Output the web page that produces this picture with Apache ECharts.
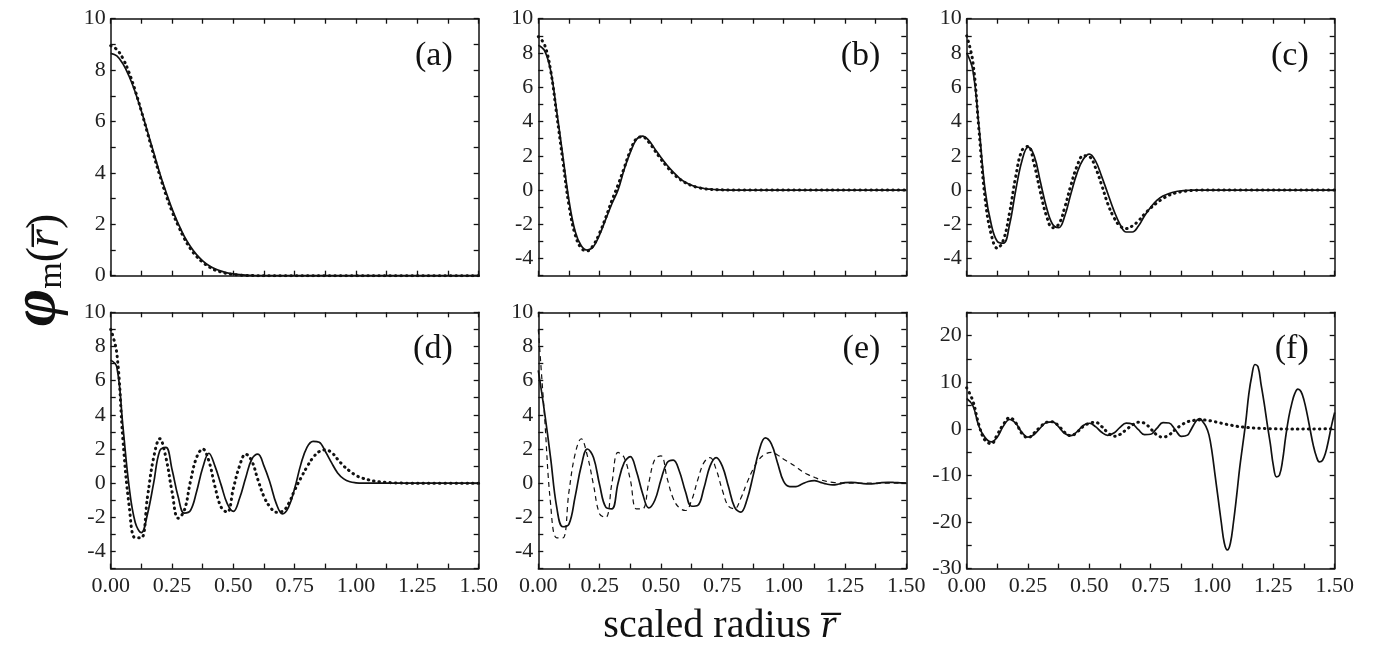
<!DOCTYPE html>
<html><head><meta charset="utf-8">
<script src="https://cdn.jsdelivr.net/npm/echarts@6/dist/echarts.min.js"></script>
<style>html,body{margin:0;padding:0;background:#fff}#c{width:1379px;height:654px}</style>
</head><body><div id="c"></div>
<script>
// scaled radius sample points
const r = [0,0.025,0.05,0.075,0.1,0.125,0.15,0.175,0.2,0.225,0.25,0.275,0.3,0.325,0.35,0.375,0.4,0.425,0.45,0.475,0.5,0.525,0.55,0.575,0.6,0.625,0.65,0.675,0.7,0.725,0.75,0.775,0.8,0.825,0.85,0.875,0.9,0.925,0.95,0.975,1,1.025,1.05,1.075,1.1,1.125,1.15,1.175,1.2,1.225,1.25,1.275,1.3,1.325,1.35,1.375,1.4,1.425,1.45,1.475,1.5];
// finer sampling for panel (f) solid curve
const rF = [0,0.025,0.05,0.075,0.1,0.125,0.15,0.175,0.2,0.225,0.25,0.275,0.3,0.325,0.35,0.375,0.4,0.425,0.45,0.475,0.5,0.525,0.55,0.575,0.6,0.625,0.65,0.675,0.7,0.725,0.75,0.775,0.8,0.825,0.85,0.875,0.9,
  0.9125,0.925,0.9375,0.95,0.9625,0.975,0.9875,1,1.0125,1.025,1.0375,1.05,1.0625,1.075,1.0875,1.1,1.1125,1.125,1.1375,1.15,1.1625,1.175,1.1875,1.2,1.2125,1.225,1.2375,1.25,1.2625,1.275,1.2875,1.3,1.3125,1.325,1.3375,1.35,1.3625,1.375,1.3875,1.4,1.4125,1.425,1.4375,1.45,1.4625,1.475,1.4875,1.5];

const aSolid = [8.65,8.55,8.24,7.76,7.14,6.41,5.61,4.80,3.99,3.27,2.60,2.03,1.53,1.14,0.82,0.58,0.40,0.27,0.18,0.11,0.07,0.04,0.02,0.01,
  0,0,0,0,0,0,0,0,0,0,0,0,0,0,0,0,0,0,0,0,0,0,0,0,0,0,0,0,0,0,0,0,0,0,0,0,0];
const aDot = [8.95,8.8,8.45,7.9,7.2,6.4,5.55,4.7,3.9,3.15,2.5,1.95,1.45,1.05,0.75,0.52,0.35,0.22,0.14,0.08,0.05,0.03,0.01,0.01,
  0,0,0,0,0,0,0,0,0,0,0,0,0,0,0,0,0,0,0,0,0,0,0,0,0,0,0,0,0,0,0,0,0,0,0,0,0];

const bSolid = [8.45,8.15,7.0,4.6,2.0,-0.6,-2.4,-3.25,-3.5,-3.3,-2.6,-1.7,-0.8,0.0,1.2,2.2,2.95,3.15,2.9,2.4,1.9,1.45,1.05,0.7,0.45,0.28,0.16,0.09,0.05,0.02,0.01,
  0,0,0,0,0,0,0,0,0,0,0,0,0,0,0,0,0,0,0,0,0,0,0,0,0,0,0,0,0,0];
const bDot = [8.95,8.5,7.0,4.4,1.7,-0.9,-2.6,-3.4,-3.55,-3.2,-2.5,-1.6,-0.6,0.3,1.3,2.3,3.0,3.1,2.8,2.3,1.8,1.35,0.95,0.65,0.42,0.26,0.15,0.08,0.04,0.02,0.01,
  0,0,0,0,0,0,0,0,0,0,0,0,0,0,0,0,0,0,0,0,0,0,0,0,0,0,0,0,0,0];

const cSolid = [8.0,7.0,3.7,0.0,-2.0,-3.0,-3.1,-2.0,0.0,1.7,2.5,2.0,0.5,-1.0,-2.0,-2.2,-1.5,-0.2,1.0,1.8,2.1,1.7,0.8,-0.2,-1.2,-2.0,-2.45,-2.45,-2.1,-1.5,-1.0,-0.6,-0.35,-0.2,-0.1,-0.05,-0.02,
  0,0,0,0,0,0,0,0,0,0,0,0,0,0,0,0,0,0,0,0,0,0,0,0];
const cDot = [9.0,7.5,3.5,-0.5,-2.6,-3.4,-2.9,-1.3,0.8,2.3,2.55,1.5,-0.1,-1.5,-2.2,-2.0,-1.0,0.3,1.4,2.0,1.95,1.3,0.3,-0.8,-1.6,-2.1,-2.25,-2.1,-1.8,-1.4,-1.05,-0.75,-0.5,-0.3,-0.18,-0.1,-0.05,-0.02,
  0,0,0,0,0,0,0,0,0,0,0,0,0,0,0,0,0,0,0,0,0,0,0];

const dSolid = [7.2,6.8,3.3,-0.2,-2.3,-2.9,-1.8,0.0,1.9,2.1,0.8,-0.8,-1.75,-1.6,-0.5,0.9,1.75,1.0,-0.1,-1.2,-1.65,-0.9,0.3,1.4,1.7,1.0,0.0,-1.2,-1.8,-1.4,-0.3,1.1,2.1,2.45,2.4,1.85,1.2,0.6,0.25,0.08,0.02,
  0,0,0,0,0,0,0,0,0,0,0,0,0,0,0,0,0,0,0,0];
const dDot = [9.0,7.6,2.5,-1.3,-3.2,-3.2,-0.8,1.5,2.6,1.5,-0.5,-2.05,-1.6,0.1,1.5,2.0,1.3,-0.2,-1.4,-1.7,-0.3,1.0,1.7,1.3,0.2,-0.8,-1.4,-1.7,-1.65,-1.2,-0.4,0.3,0.95,1.5,1.85,1.95,1.8,1.4,1.0,0.7,0.45,0.3,0.2,0.12,0.08,0.05,0.02,0.01,
  0,0,0,0,0,0,0,0,0,0,0,0,0];

const eSolid = [6.6,4.2,1.5,-1.4,-2.55,-2.4,-0.8,1.0,2.0,1.5,-0.1,-1.4,-1.5,0.0,1.2,1.55,0.7,-0.6,-1.45,-1.0,0.2,1.2,1.35,0.7,-0.5,-1.35,-1.3,-0.3,1.0,1.5,1.0,-0.2,-1.4,-1.7,-1.0,0.4,1.9,2.65,2.3,1.2,0.1,-0.2,-0.2,-0.05,0.1,0.15,0.05,-0.05,-0.1,-0.05,0.03,0.05,0.02,-0.03,-0.05,-0.02,0.03,0.05,0.04,0.02,0.0];
const eDash = [9.0,4.0,-1.2,-3.2,-3.2,-0.5,1.7,2.6,1.6,-0.1,-1.8,-2.0,0.0,1.8,1.5,0.2,-1.5,-1.5,0.0,1.4,1.6,0.3,-0.9,-1.45,-1.6,-1.0,0.2,1.2,1.5,0.8,-0.4,-1.35,-1.5,-0.9,0.0,0.8,1.4,1.7,1.8,1.65,1.4,1.2,0.95,0.7,0.5,0.35,0.2,0.1,0.05,0.02,
  0,0,0,0,0,0,0,0,0,0,0];

const fSolid = [6.5,5.0,0.5,-1.9,-2.8,-1.77,0.63,2.0,1.16,-0.76,-1.8,-1.22,0.17,1.36,1.49,0.39,-1.02,-1.48,-0.62,0.71,1.19,0.46,-0.75,-1.4,-0.91,0.31,1.22,1.03,-0.19,-1.27,-1.17,0.09,1.33,1.25,-0.2,-1.62,-1.36,
  -0.36,0.82,1.8,2.2,1.5,0.5,-1.3,-5,-10,-15,-20,-24.5,-26,-24.5,-20,-14.5,-8.5,-3.5,1.5,7.5,11.5,13.8,13.3,9.5,5.5,1.0,-3.2,-7.9,-10.3,-9.9,-6.8,-1.8,2.4,5.4,7.6,8.5,8.0,6.1,3.2,-0.2,-3.5,-5.9,-7.1,-6.8,-5.2,-2.4,0.8,3.5];
const fDot = [8.8,6.0,0.8,-2.5,-3.2,-1.2,1.0,2.4,1.3,-1.0,-1.9,-0.9,0.4,1.4,1.5,0.6,-0.8,-1.5,-0.7,0.5,1.2,1.4,0.5,-0.8,-1.6,-1.2,-0.2,0.8,1.4,1.2,0.0,-1.3,-1.8,-1.3,-0.2,0.8,1.5,1.8,1.9,1.85,1.65,1.35,1.05,0.8,0.55,0.38,0.25,0.15,0.08,0.03,0.0,-0.03,-0.05,-0.06,-0.06,-0.05,-0.04,-0.03,-0.02,-0.01,0];

const panelLabels = ['(a)','(b)','(c)','(d)','(e)','(f)'];
const yRanges = [[0,10,1,2],[-5,10,1,2],[-5,10,1,2],[-5,10,1,2],[-5,10,1,2],[-30,25,5,10]];
const xRange = [0,1.5,0.125];
const xTitle = 'scaled radius ';

// layout (pixels)
const colLeft = [110.7, 538.3, 966.7];
const rowTop = [18.7, 312.3];
const gw = 368, gh = [257, 256.3];
const FONT = 'Liberation Serif';
const INK = '#111';

const panels = [
  {solid:[r,aSolid], other:[r,aDot], style:'dot'},
  {solid:[r,bSolid], other:[r,bDot], style:'dot'},
  {solid:[r,cSolid], other:[r,cDot], style:'dot'},
  {solid:[r,dSolid], other:[r,dDot], style:'dot'},
  {solid:[r,eSolid], other:[r,eDash], style:'dash'},
  {solid:[rF,fSolid], other:[r,fDot], style:'dot'}
];

const grid = [], xAxis = [], yAxis = [], series = [], graphic = [];
const axisLine = {show:true, onZero:false, lineStyle:{color:INK, width:1.5}};
const axisTick = {show:true, inside:true, length:5, lineStyle:{color:INK, width:1.3}};

panels.forEach((p, gi) => {
  const row = Math.floor(gi/3), col = gi%3;
  grid.push({left:colLeft[col], top:rowTop[row], width:gw, height:gh[row], containLabel:false});
  const xl = {
    show: row===1, margin:7, color:'#222', fontFamily:FONT, fontSize:22,
    formatter: v => (Math.round(v/xRange[2]) % 2 === 0 ? v.toFixed(2) : '')
  };
  xAxis.push({type:'value', gridIndex:gi, position:'bottom', min:xRange[0], max:xRange[1], interval:xRange[2],
    axisLine, axisTick, splitLine:{show:false}, axisLabel:xl});
  xAxis.push({type:'value', gridIndex:gi, position:'top', min:xRange[0], max:xRange[1], interval:xRange[2],
    axisLine, axisTick, splitLine:{show:false}, axisLabel:{show:false}});
  const yr = yRanges[gi];
  yAxis.push({type:'value', gridIndex:gi, position:'left', min:yr[0], max:yr[1], interval:yr[2],
    axisLine, axisTick, splitLine:{show:false},
    axisLabel:{show:true, margin:5, color:'#222', fontFamily:FONT, fontSize:22,
      formatter: v => (Math.round(v) % yr[3] === 0 ? String(v) : '')}});
  yAxis.push({type:'value', gridIndex:gi, position:'right', min:yr[0], max:yr[1], interval:yr[2],
    axisLine, axisTick, splitLine:{show:false}, axisLabel:{show:false}});

  const otherStyle = p.style === 'dash'
    ? {color:INK, width:1.2, type:[5,4]}
    : {color:INK, width:3, type:[0.5,5], cap:'round'};
  series.push({type:'line', xAxisIndex:2*gi, yAxisIndex:2*gi, showSymbol:false, smooth:0.4,
    lineStyle:otherStyle, data:p.other[0].map((x,i)=>[x, p.other[1][i]]), silent:true, z:2});
  series.push({type:'line', xAxisIndex:2*gi, yAxisIndex:2*gi, showSymbol:false, smooth:0.4,
    lineStyle:{color:INK, width:1.7}, data:p.solid[0].map((x,i)=>[x, p.solid[1][i]]), silent:true, z:3});

  graphic.push({type:'text', x:colLeft[col]+gw-26, y:rowTop[row]+37,
    style:{text:panelLabels[gi], font:'34px "'+FONT+'"', fill:INK, align:'right', verticalAlign:'middle'}});
});

graphic.push({type:'text', x:36, y:270, rotation:Math.PI/2,
  style:{text:'{phi|\u03c6}{m|m}{p|(}{r|r\u0305}{p|)}', align:'center', verticalAlign:'middle', fill:INK,
    rich:{
      phi:{fontFamily:FONT, fontSize:64, fontWeight:'bold', fontStyle:'italic', fill:INK, verticalAlign:'bottom', lineHeight:64},
      m:{fontFamily:FONT, fontSize:34, fill:INK, verticalAlign:'bottom', lineHeight:54},
      p:{fontFamily:FONT, fontSize:46, fill:INK, verticalAlign:'bottom', lineHeight:66},
      r:{fontFamily:FONT, fontSize:46, fontStyle:'italic', fill:INK, verticalAlign:'bottom', lineHeight:66}
    }}});

graphic.push({type:'text', x:720, y:626,
  style:{text:'{n|'+xTitle+'}{r|r\u0305}', align:'center', verticalAlign:'middle', fill:INK,
    rich:{
      n:{fontFamily:FONT, fontSize:40, fill:INK},
      r:{fontFamily:FONT, fontSize:40, fontStyle:'italic', fill:INK}
    }}});

const chart = echarts.init(document.getElementById('c'), null, {renderer:'canvas'});
chart.setOption({animation:false, backgroundColor:'#fff', grid, xAxis, yAxis, series, graphic});
</script></body></html>
